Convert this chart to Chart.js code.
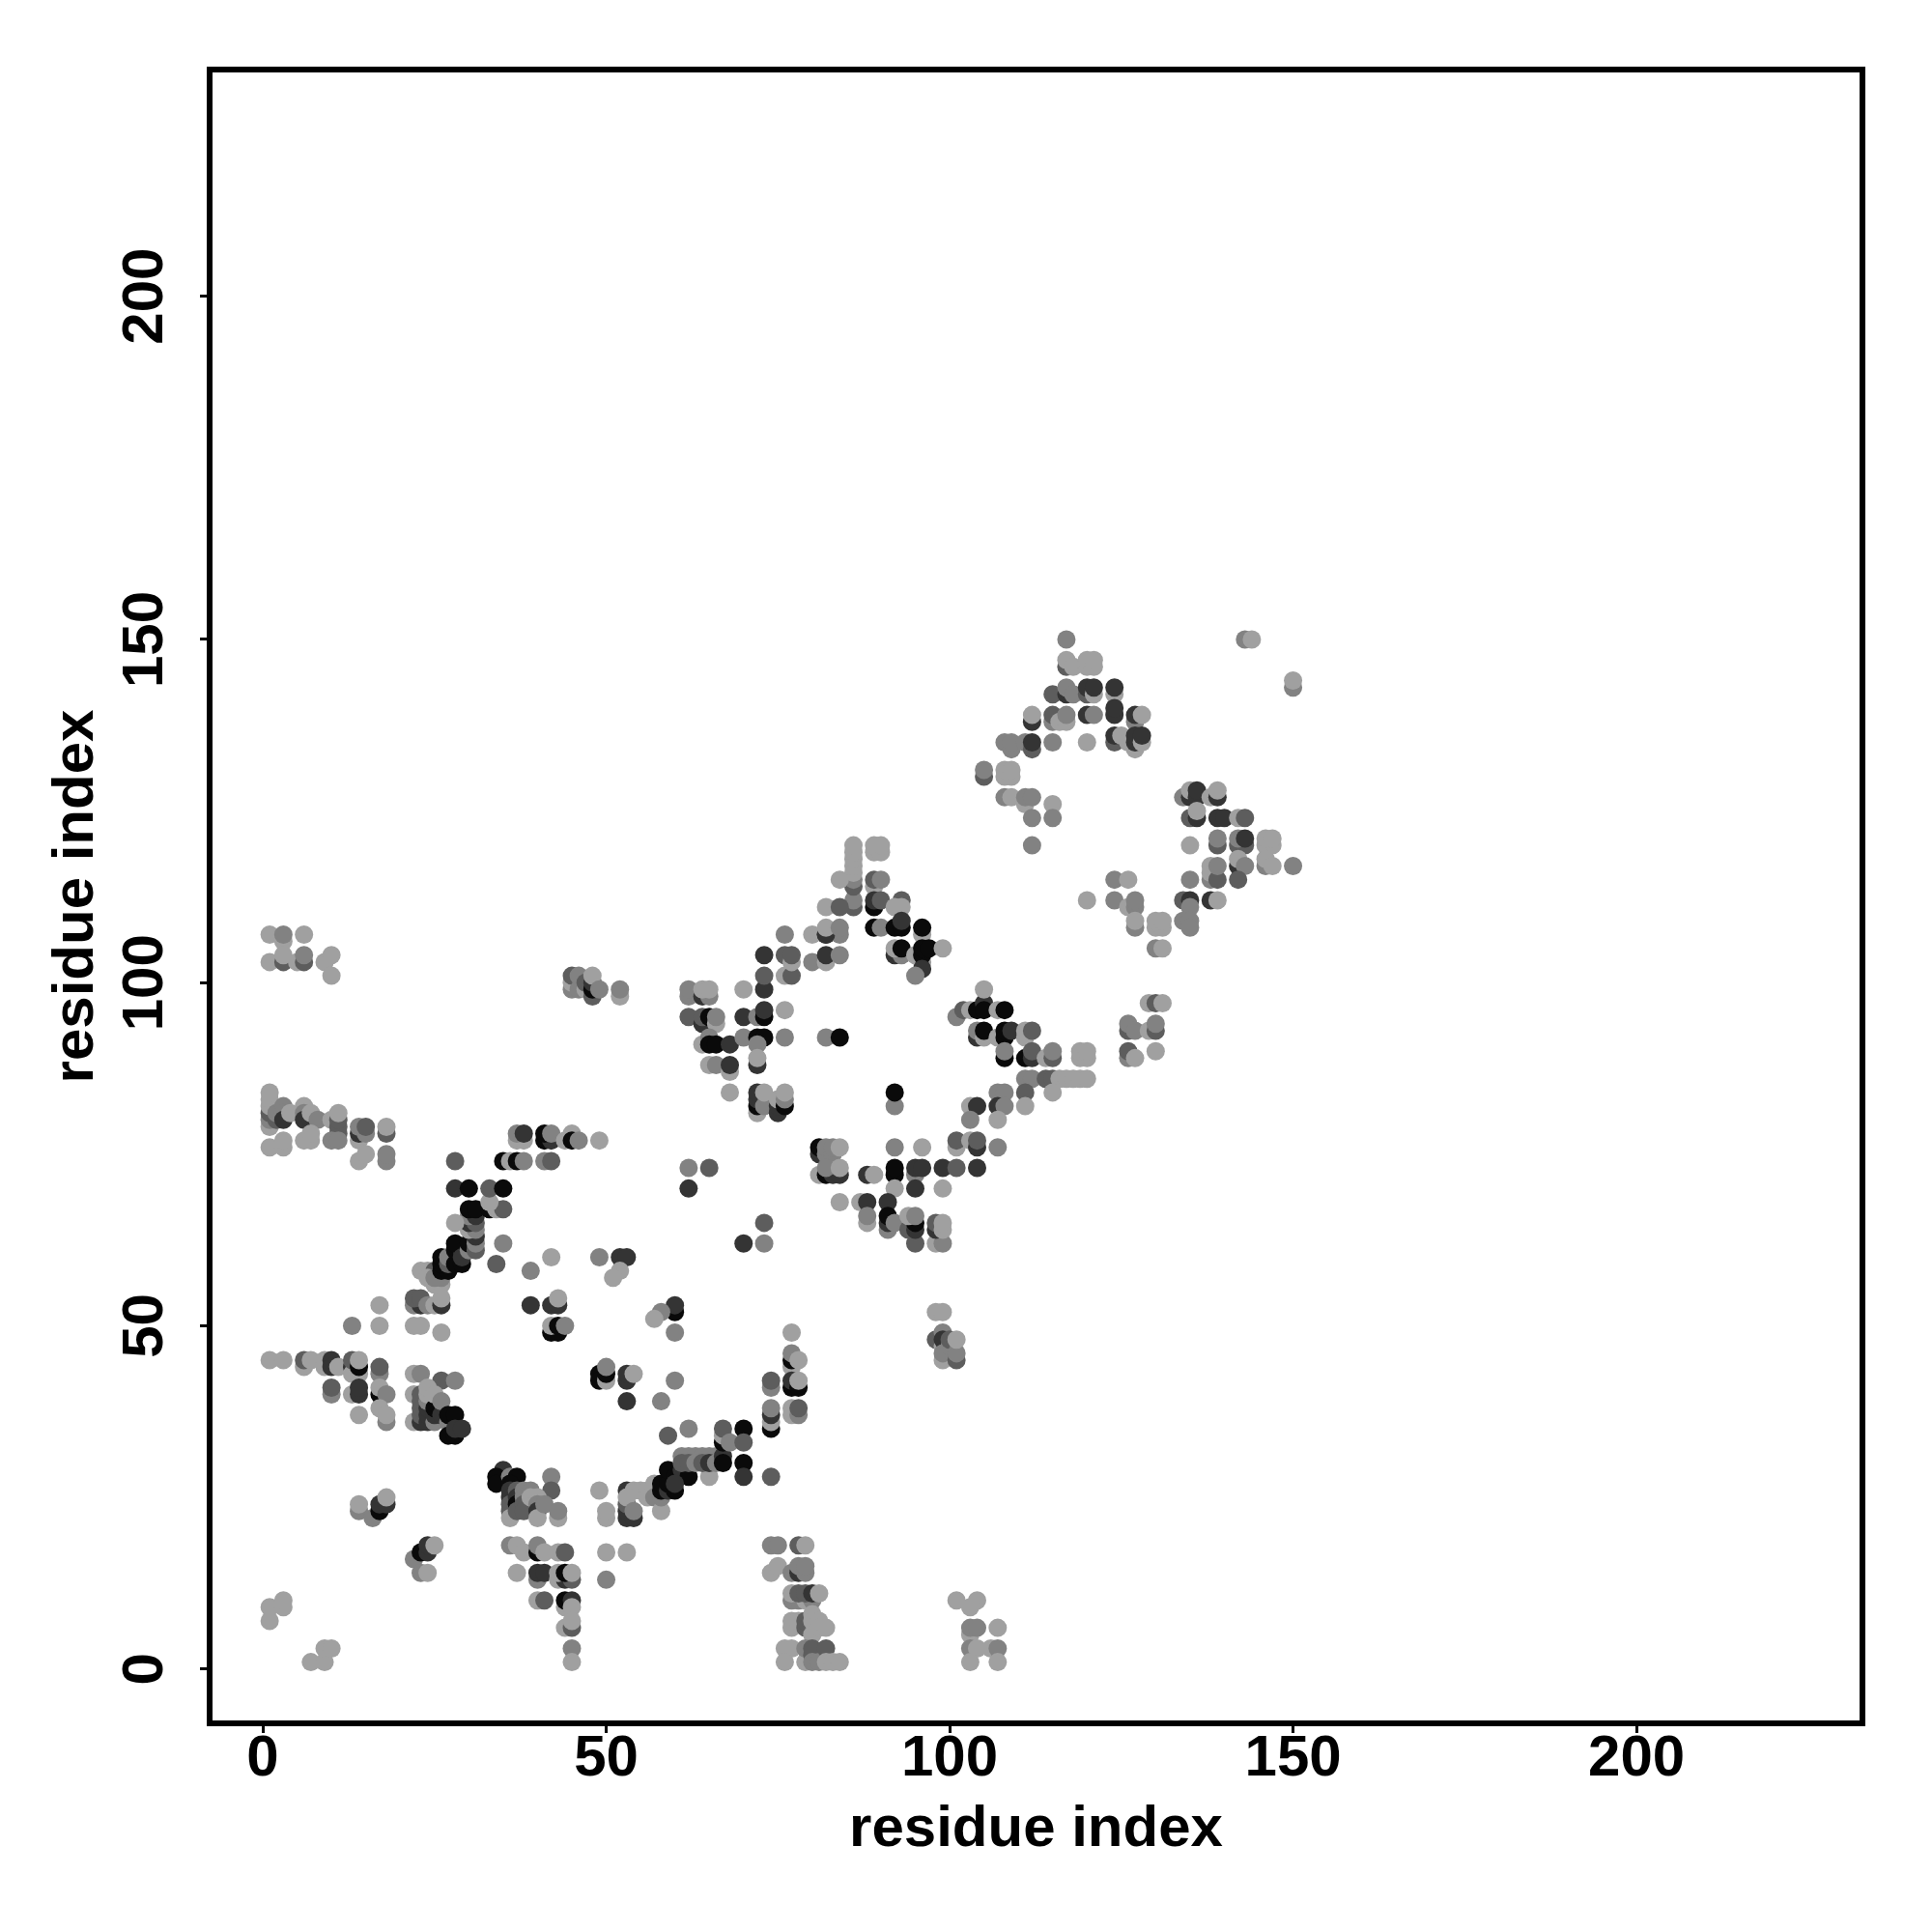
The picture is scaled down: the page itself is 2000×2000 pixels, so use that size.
<!DOCTYPE html>
<html>
<head>
<meta charset="utf-8">
<style>
  html, body { margin: 0; padding: 0; background: #fff; }
  canvas { display: block; }
</style>
<script src="https://cdn.jsdelivr.net/npm/chart.js@4/dist/chart.umd.min.js"></script>
</head>
<body>
<canvas id="contact-map" width="2000" height="2000"></canvas>
<script>
// contacts: [residue x, residue y, score]
// score: 0 faint ... 1 strongest
const F = 0, M = 0.2, H = 0.45, D = 0.72, B = 1;

const tickValues = [0, 50, 100, 150, 200];
const axisLabel = 'residue index';

const cornerBottomLeft = [
  [7,1,F],[9,1,F],[9,3,F],[10,3,F],[1,7,F],[1,9,F],[3,9,F],[3,10,F]
];
const hairpinLow = [
  [14,23,M],[14,24,F],[16,22,M],[17,23,B],[17,24,D],[18,24,D],[18,25,F],
  [22,16,M],[23,17,B],[24,17,D],[24,18,D],[25,18,F],[23,14,M],[24,14,F]
];
const column40 = [
  [36,18,M],[37,18,F],[38,17,F],[40,17,B],[40,18,M],[41,17,F],[43,17,F],[44,17,H],
  [37,14,F],[40,13,M],[40,14,D],[41,14,D],[43,13,F],[44,13,D],[45,13,H],[43,14,F],[44,14,B],[45,14,F],
  [40,10,F],[41,10,H],[44,9,F],[44,10,B],[45,10,D],[45,9,F],
  [44,6,F],[45,6,H],[45,7,F],[45,3,M],[45,1,F],
  [50,13,M],[50,17,F],[53,17,F]
];
const rowY45 = [
  [1,45,F],[3,45,F],[6,44,F],[6,45,H],[7,45,F],[9,44,F],[9,45,F],[10,45,D],[10,44,D],[11,44,F],
  [13,44,D],[13,43,F],[13,45,H],[14,43,F],[14,44,B],[14,45,F],[17,43,M],[17,44,H],
  [10,40,M],[10,41,H],[13,40,F],[14,40,D],[14,41,D],[17,40,B],[17,41,F],[18,40,M],
  [14,37,F],[17,38,F],[18,36,M],[18,37,F]
];
const knot25 = [
  [22,43,F],[23,43,M],[26,42,H],[28,42,M],
  [22,40,F],[22,36,F],
  [23,36,D],[23,37,H],[23,38,H],[23,39,H],[23,40,H],
  [24,36,D],[24,37,D],[24,38,D],[24,39,M],[24,40,F],[24,41,F],
  [25,36,M],[25,37,D],[25,38,B],[25,40,F],
  [26,37,D],[26,39,M],[27,36,M],
  [27,37,B],[28,37,B],[27,34,B],[28,34,B],[28,35,D],[29,35,D]
];
const column22 = [
  [13,50,M],[17,50,F],[22,50,F],[23,50,F],[26,49,F],
  [17,53,F],[22,53,M],[23,53,D],[22,54,H],[23,54,H],[24,53,M],[25,53,F],[26,53,D],[26,54,F],
  [39,53,D],[42,53,D],[43,53,D],[43,54,F],
  [42,49,B],[43,49,B],[42,50,F],[43,50,B],[44,50,M]
];
const strandUp = [
  [23,58,F],[24,58,F],[25,58,H],[24,57,F],[25,56,F],[26,56,F],[26,57,M],[25,57,M],
  [26,58,B],[27,58,B],[26,59,B],[26,60,B],[27,59,H],[27,60,M],[28,59,B],[29,59,B],
  [28,61,B],[29,61,D],[28,62,B],[29,60,D],[30,61,M],[30,62,B],[31,61,H],[31,62,M],
  [31,63,D],[30,64,F],[31,64,M],[30,65,D],[31,65,H],[30,66,M],[31,66,D],[30,67,B],[31,67,B],
  [33,67,B],[34,67,F],[35,67,H],[33,68,F],[28,65,F],[35,62,M],[34,59,H],[39,58,M],
  [28,70,D],[30,70,B],[33,70,H],[35,70,B],[28,74,H],
  [35,74,B],[36,74,F],[37,74,B],[38,74,M],[41,74,M],[42,74,H]
];
const rowY78 = [
  [37,77,F],[38,77,F],[37,78,M],[38,78,D],
  [41,77,B],[42,77,D],[41,78,B],[42,78,M],
  [44,77,F],[45,78,F],[45,77,B],[46,77,M],[49,77,F]
];
const crossStrandLeft = [
  [1,79,F],[1,80,M],[1,81,H],[1,82,F],[1,83,F],[1,84,F],[2,80,H],[2,81,M],[3,82,M],[3,81,M],[3,80,D],[4,81,F],
  [6,82,F],[6,81,M],[6,80,D],[7,80,D],[7,81,F],[8,80,M],[10,80,F],
  [11,78,H],[11,79,H],[11,80,H],[11,81,F],
  [1,76,F],[3,76,F],[3,77,F],[6,77,F],[7,77,F],[7,78,F],[10,77,M],[11,77,M],
  [14,77,F],[14,78,D],[14,79,M],[15,78,M],[15,79,H],[18,78,H],[18,79,F],
  [14,74,F],[15,75,F],[18,74,M],[18,75,M]
];
const upperLeft = [
  [1,107,F],[3,106,F],[3,107,M],[6,107,F],
  [1,103,F],[3,103,H],[3,104,F],[5,103,F],[6,103,H],[6,104,M],[9,103,F],[10,104,F],[10,101,F],
  [45,99,M],[45,100,F],[45,101,H],[46,99,M],[46,101,M],[47,99,F],[47,100,H],
  [48,98,H],[48,99,B],[48,100,D],[48,101,F],[49,99,M],[52,98,F],[52,99,M]
];
const midScatter = [
  [42,60,F],[49,60,M],[52,60,D],[53,60,D],[52,58,F],[51,57,F],
  [60,52,B],[60,53,D],[58,52,M],[57,51,F],[60,49,M],
  [49,43,B],[49,42,B],[50,42,F],[50,43,B],[50,44,M],[53,42,D],[53,43,D],[54,43,F],[53,39,D],
  [60,42,M],[58,39,M],[59,34,H],[62,35,M]
];
const strandDown = [
  [35,29,D],[34,28,B],[34,27,B],[36,28,M],[37,28,B],[42,28,M],[42,26,H],
  [36,27,B],[36,26,D],[36,25,D],[36,24,H],[36,23,H],[36,22,F],
  [37,26,H],[37,25,D],[37,24,B],[37,23,H],
  [38,26,M],[38,25,M],[38,24,H],[38,23,H],[39,26,M],[39,25,F],
  [40,25,F],[40,24,M],[40,23,D],[40,22,F],[41,24,M],[43,22,F],[43,23,M],
  [49,26,F],[50,22,F],[50,23,F],
  [53,26,D],[54,26,F],[53,22,D],[53,23,D],[53,24,H],[53,25,F],[54,22,D],[54,23,M],
  [55,26,F],[56,26,F],[57,27,F],[56,25,F],[57,25,M],[58,23,F],[58,25,M],
  [58,26,B],[58,27,B],[59,26,D],[59,27,B],[60,26,B],[59,29,B],[60,28,B],[61,29,D],[62,28,B],[60,27,D],
  [65,28,F]
];
const strandRow31 = [
  [61,31,M],[62,31,M],[63,31,M],[64,31,M],[65,31,M],[66,31,M],
  [61,30,H],[62,30,H],[63,30,M],[64,30,H],[65,30,D],[66,30,M],
  [67,31,D],[67,30,B],[67,33,B],[67,34,F],[67,35,H],[68,33,M],
  [70,35,B],[70,33,H],[70,30,B],[70,28,D],[74,28,H]
];
const column74 = [
  [74,41,M],[74,42,H],[74,35,B],[74,36,F],[74,37,D],[74,38,M],
  [77,49,F],[77,44,F],[77,45,B],[77,46,M],[78,45,F],
  [77,41,B],[77,42,D],[78,41,B],[78,42,F],[77,37,F],[77,38,F],[78,37,M],[78,38,H]
];
const columnsLow = [
  [74,18,M],[75,18,M],[78,18,H],[79,18,F],
  [74,14,F],[75,15,F],[77,14,M],[78,14,D],[79,14,M],[78,15,M],[79,15,M],
  [77,10,M],[78,10,M],[79,10,F],[80,10,M],[77,11,F],[78,11,H],[79,11,H],[80,11,D],[81,11,F],
  [77,6,F],[77,7,F],[78,7,F],[79,6,H],[79,7,H],[80,8,F],[80,7,F],[80,5,F],[81,7,F],[81,6,F],[82,6,F],
  [76,3,F],[77,3,F],[76,1,F],[79,1,F],[79,3,M],[80,2,H],[80,3,H],[80,1,M],[81,1,M],[82,3,H],[82,1,F],[83,1,F],[84,1,F],
  [101,10,F],[104,10,F],[103,9,F],[103,5,F],[103,6,M],[104,6,M],[107,6,F],
  [103,3,M],[104,3,F],[106,3,F],[107,3,M],[103,1,F],[107,1,F]
];
const column100 = [
  [98,52,F],[99,52,F],[98,48,H],[99,49,M],[99,47,F],[99,48,D],[99,45,F],[99,46,M],
  [100,47,M],[100,48,H],[101,45,H],[101,46,M],[101,48,F]
];
const scatterLow = [
  [70,62,D],[73,62,M],[73,65,H],[62,73,M],[65,73,H],[62,70,D]
];
const knot83 = [
  [81,75,D],[81,76,B],[82,75,M],[82,76,M],[83,75,M],[83,76,M],[84,76,F],
  [81,72,F],[82,72,B],[83,72,D],[84,72,D],[82,73,M],[84,73,F],
  [88,72,D],[89,72,F],[92,72,B],[92,73,B],[92,76,M],[92,70,F],[95,72,M],[95,73,D],[96,73,D],[95,70,D],[96,76,F],
  [99,73,D],[101,73,H],[104,73,D],[99,70,F],[101,76,F],[101,77,H],[103,77,F],[104,76,D],[104,77,H],[107,76,M]
];
const knot92 = [
  [84,68,F],[87,68,F],[88,68,D],[91,68,D],[88,65,F],[88,66,M],[91,64,M],[91,65,D],[91,66,B],[92,65,M],
  [95,62,H],[94,64,H],[95,64,D],[95,65,B],[94,66,F],[95,66,M],
  [98,62,F],[99,62,M],[98,64,D],[98,65,H],[99,64,F],[99,65,F]
];
const helixUpper = [
  [92,82,M],[92,84,B],
  [68,84,F],[72,81,F],[72,82,B],[72,83,D],[72,84,D],[73,82,M],[73,84,F],
  [75,81,D],[75,82,D],[75,83,F],[76,82,B],[76,83,M],[76,84,F],
  [62,95,H],[62,98,M],[62,99,M],[64,98,D],[65,98,M],[64,99,F],[65,99,F],
  [64,94,D],[64,95,H],[65,95,B],[66,94,F],[66,95,M],
  [70,99,F],[73,99,D],[73,101,H],[73,104,D],[70,95,D],[72,95,M],[73,95,B],[73,96,D],[76,96,F],
  [76,101,F],[77,101,H],[76,104,H],[77,103,F],[77,104,H],[76,107,M],
  [80,107,F],[82,107,D],[84,107,M],[80,103,M],[82,103,F],[82,104,D],[84,104,M],
  [64,91,F],[65,92,M],[65,91,B],[66,91,B],[68,91,D],[70,92,M],[72,92,B],[73,92,B],[76,92,M],
  [82,92,M],[84,92,B],[72,91,M],[72,88,D],[72,89,F],
  [65,88,F],[66,88,M],[68,87,F],[68,88,D]
];
const peak90 = [
  [86,111,H],[86,112,M],[86,114,H],[86,115,M],[86,116,F],[86,117,F],[86,118,F],[86,119,F],[86,120,F],[84,115,F],
  [89,119,F],[90,119,F],[89,120,F],[90,120,F],[89,114,F],[89,115,H],[90,115,M],
  [89,111,B],[89,112,D],[90,112,H],[82,111,F],[84,111,H],
  [93,112,H],[92,111,F],[93,111,F],
  [82,107,D],[82,108,F],[84,108,M],
  [89,108,B],[90,108,M],[92,108,B],[93,108,B],[93,109,D],[96,107,F],[96,108,B],
  [92,104,D],[93,104,M],[92,105,F],[93,105,B],[95,104,F],[96,103,F],[96,104,B],[96,105,B],[97,105,B],[99,105,F],
  [96,102,D],[95,101,M]
];
const knot105 = [
  [101,95,M],[102,96,H],[103,96,F],[104,96,B],[105,97,D],[105,96,B],[105,99,F],[107,96,F],[108,96,B],
  [104,92,D],[104,93,M],[105,92,F],[105,93,B],[107,92,F],[108,92,B],[108,93,B],[109,93,D],
  [111,92,F],[111,93,F],[112,93,H],
  [108,89,B],[108,90,M],[111,89,B],[112,89,D],[112,90,H],[114,89,F],[115,89,H],[115,90,M],
  [119,89,F],[120,89,F],[119,90,F],[120,90,F],
  [111,86,M],[112,86,M],[114,86,H],[115,86,H],[116,86,F],[117,86,F],[118,86,F],[119,86,F],[120,86,F],
  [111,84,H],[115,84,F],[111,82,F],
  [107,84,M],[108,84,M],[107,82,D],[108,82,M],[107,80,F],[103,82,F],[104,82,D],[103,80,M]
];
const loop128 = [
  [126,93,H],[126,94,M],[127,93,M],[129,93,F],[130,93,H],[130,94,M],[130,90,F],
  [126,89,M],[126,90,H],[127,89,F],[129,97,F],[130,97,H],[131,97,F]
];
const ridge120 = [
  [117,150,M],[117,146,H],[117,147,F],[118,146,F],[120,146,F],[120,147,F],[121,146,F],[121,147,F],
  [115,142,H],[117,142,D],[117,143,M],[118,142,M],[120,142,H],[120,143,D],[121,142,F],[121,143,D],[124,142,F],[124,143,D],
  [112,138,D],[112,139,F],[115,138,M],[115,139,H],[116,138,F],[117,138,F],[117,139,M],
  [120,139,D],[121,139,M],[124,139,D],[124,140,D],[127,138,M],[127,139,D],[128,139,F],
  [108,135,M],[109,134,M],[109,135,M],[111,135,M],[112,134,H],[112,135,D],[115,135,M],[120,135,F],
  [124,135,H],[124,136,D],[125,136,F],[126,135,F],[127,134,F],[127,135,D],[127,136,D],[128,135,F],[128,136,D],
  [105,130,H],[105,131,M],[108,130,F],[108,131,F],[109,130,F],[109,131,F],
  [108,127,M],[109,127,F],[111,126,F],[111,127,M],[112,127,M],[115,126,F],[112,124,M],[115,124,M],[112,120,M],
  [143,150,M],[144,150,F],[150,143,M],[150,144,F]
];
const ridge140 = [
  [134,127,M],[135,127,D],[135,128,F],[136,127,D],[136,128,D],[138,127,F],[139,127,D],[139,128,F],
  [135,124,H],[136,124,D],[136,125,F],[139,124,D],[140,124,D],[142,124,F],[143,124,H],
  [135,120,F],[139,120,H],[139,121,M],[142,120,H],[143,120,H],[142,121,M],[143,121,D],
  [146,120,F],[147,120,F],[146,121,F],[147,121,F],
  [142,117,D],[142,118,F],[143,117,M],[146,117,M],[146,118,F],[147,117,F],[150,117,M],
  [135,115,M],[138,115,M],[138,116,F],[138,117,F],[139,115,H],[139,117,M],[142,115,H],
  [134,112,H],[135,112,D],[135,111,M],[134,109,M],[135,109,M],[135,108,M],[138,112,D],[139,112,F]
];
const ridge125 = [
  [124,115,M],[126,115,F],[120,112,F],[124,112,M],[126,111,F],[127,111,M],[127,112,M],
  [127,108,M],[127,109,F],[130,108,F],[130,109,F],[131,108,F],[131,109,F],[130,105,M],[131,105,F]
];

const contactGroups = [
  cornerBottomLeft, hairpinLow, column40, rowY45, knot25, column22, strandUp, rowY78,
  crossStrandLeft, upperLeft, midScatter, strandDown, strandRow31, column74, columnsLow,
  column100, scatterLow, knot83, knot92, helixUpper, peak90, knot105, loop128,
  ridge120, ridge140, ridge125
];

const points = contactGroups.flat().map(c => ({ x: c[0], y: c[1], score: c[2] }));

function scoreColor(score) {
  const g = Math.round(160 - 150 * score);
  return `rgb(${g},${g},${g})`;
}

const boxFrame = {
  id: 'boxFrame',
  afterDatasetsDraw(chart) {
    const { ctx, chartArea: a } = chart;
    ctx.save();
    ctx.strokeStyle = '#000';
    ctx.lineWidth = 6;
    ctx.strokeRect(a.left, a.top, a.right - a.left, a.bottom - a.top);
    ctx.restore();
  }
};

const fontFamily = '"Liberation Sans", Arial, sans-serif';

function setTicks(scale) {
  scale.ticks = tickValues.map(value => ({ value }));
}

new Chart(document.getElementById('contact-map'), {
  type: 'scatter',
  data: {
    datasets: [{
      data: points,
      pointRadius: 9.5,
      pointHoverRadius: 9.5,
      pointBorderWidth: 0,
      pointBackgroundColor: ctx => scoreColor(ctx.raw ? ctx.raw.score : 0)
    }]
  },
  options: {
    responsive: false,
    animation: false,
    layout: { padding: { top: 72, right: 72, left: 0, bottom: 0 } },
    plugins: { legend: { display: false }, tooltip: { enabled: false } },
    scales: {
      x: {
        type: 'linear',
        min: -7.74,
        max: 232.9,
        afterBuildTicks: setTicks,
        afterFit(scale) { scale.height = 216; },
        grid: { drawOnChartArea: false, tickLength: 10, tickWidth: 3, tickColor: '#000' },
        border: { display: false },
        ticks: {
          color: '#000',
          padding: -9,
          maxRotation: 0,
          font: { family: fontFamily, weight: 'bold', size: 60 }
        },
        title: {
          display: true,
          text: axisLabel,
          color: '#000',
          padding: { top: 0, bottom: 70 },
          font: { family: fontFamily, weight: 'bold', size: 60 }
        }
      },
      y: {
        type: 'linear',
        min: -7.92,
        max: 233.03,
        afterBuildTicks: setTicks,
        afterFit(scale) { scale.width = 217; },
        grid: { drawOnChartArea: false, tickLength: 10, tickWidth: 3, tickColor: '#000' },
        border: { display: false },
        ticks: {
          color: '#000',
          padding: 5,
          minRotation: 90,
          maxRotation: 90,
          crossAlign: 'center',
          font: { family: fontFamily, weight: 'bold', size: 60 }
        },
        title: {
          display: true,
          text: axisLabel,
          color: '#000',
          padding: { top: 43, bottom: 0 },
          font: { family: fontFamily, weight: 'bold', size: 60 }
        }
      }
    }
  },
  plugins: [boxFrame]
});
</script>
</body>
</html>
